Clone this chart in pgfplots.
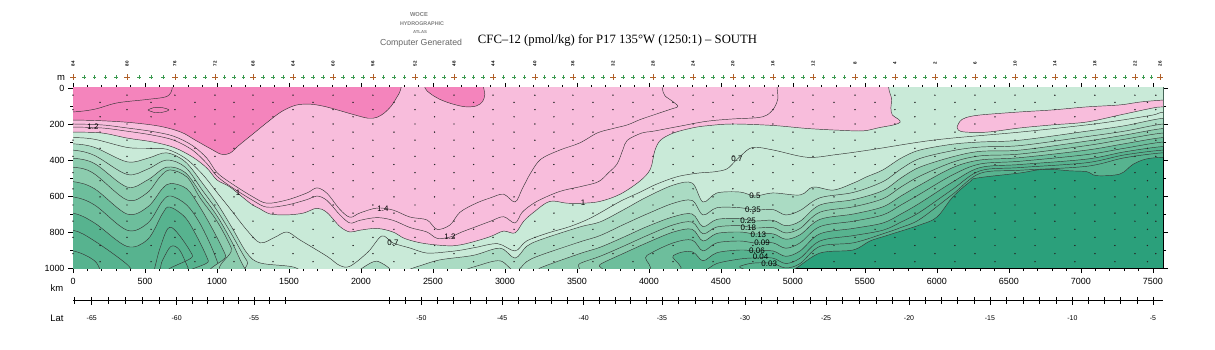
\documentclass[border=0pt]{standalone}
\usepackage{fontspec}
\setmainfont{Liberation Sans}
\newfontfamily\titlefont{Liberation Serif}
\usepackage{graphicx}
\usepackage{pgfplots}
\usepackage{pgfplotstable}
\pgfplotsset{compat=1.18}
\definecolor{dg}{HTML}{2BA07B}
\definecolor{g1}{HTML}{57B38F}
\definecolor{g2}{HTML}{6DBE9C}
\definecolor{g3}{HTML}{8CCCAE}
\definecolor{g4}{HTML}{AADBC3}
\definecolor{g5}{HTML}{C9EAD8}
\definecolor{p1}{HTML}{F8BDDC}
\definecolor{p2}{HTML}{F484BC}
\definecolor{cl}{HTML}{353535}
\definecolor{stg}{HTML}{3C9A50}
\definecolor{stb}{HTML}{B0602A}
\pgfplotsset{cont/.style={smooth, tension=0.55, draw=cl, line width=0.45bp, mark=none}}
% sample positions (station distance, bottle depths)
\pgfplotstableread{
x d1 d2 d3 d4 d5 d6 d7 d8 d9 d10 d11
0 40 120 200 290 380 470 560 650 740 830 920
375 40 120 200 290 380 470 560 650 740 830 920
708 40 120 200 290 380 470 560 650 740 830 920
986 40 120 200 290 380 470 560 650 740 830 920
1250 40 120 200 290 380 470 560 650 740 830 920
1528 40 120 200 290 380 470 560 650 740 830 920
1806 40 120 200 290 380 470 560 650 740 830 920
2083 40 120 200 290 380 470 560 650 740 830 920
2375 40 120 200 290 380 470 560 650 740 830 920
2646 40 120 200 290 380 470 560 650 740 830 920
2917 40 120 200 290 380 470 560 650 740 830 920
3208 40 120 200 290 380 470 560 650 740 830 920
3472 40 120 200 290 380 470 560 650 740 830 920
3750 40 120 200 290 380 470 560 650 740 830 920
4028 40 120 200 290 380 470 560 650 740 830 920
4306 40 120 200 290 380 470 560 650 740 830 920
4583 40 120 200 290 380 470 560 650 740 830 920
4861 40 120 200 290 380 470 560 650 740 830 920
5139 40 120 200 290 380 470 560 650 740 830 920
5431 40 120 200 290 380 470 560 650 740 830 920
5708 40 120 200 290 380 470 560 650 740 830 920
5986 40 120 200 290 380 470 560 650 740 830 920
6264 40 120 200 290 380 470 560 650 740 830 920
6542 40 120 200 290 380 470 560 650 740 830 920
6819 40 120 200 290 380 470 560 650 740 830 920
7097 40 120 200 290 380 470 560 650 740 830 920
7375 40 120 200 290 380 470 560 650 740 830 920
7520 40 120 200 290 380 470 560 650 740 830 920
}\bigst
\pgfplotstableread{
x d1 d2 d3 d4 d5 d6 d7 d8 d9 d10 d11
188 80 160 245 335 425 515 605 695 785 875 965
542 80 160 245 335 425 515 605 695 785 875 965
847 80 160 245 335 425 515 605 695 785 875 965
1118 80 160 245 335 425 515 605 695 785 875 965
1389 80 160 245 335 425 515 605 695 785 875 965
1667 80 160 245 335 425 515 605 695 785 875 965
1945 80 160 245 335 425 515 605 695 785 875 965
2229 80 160 245 335 425 515 605 695 785 875 965
2511 80 160 245 335 425 515 605 695 785 875 965
2782 80 160 245 335 425 515 605 695 785 875 965
3063 80 160 245 335 425 515 605 695 785 875 965
3340 80 160 245 335 425 515 605 695 785 875 965
3611 80 160 245 335 425 515 605 695 785 875 965
3889 80 160 245 335 425 515 605 695 785 875 965
4167 80 160 245 335 425 515 605 695 785 875 965
4445 80 160 245 335 425 515 605 695 785 875 965
4722 80 160 245 335 425 515 605 695 785 875 965
5000 80 160 245 335 425 515 605 695 785 875 965
5285 80 160 245 335 425 515 605 695 785 875 965
5570 80 160 245 335 425 515 605 695 785 875 965
5847 80 160 245 335 425 515 605 695 785 875 965
6125 80 160 245 335 425 515 605 695 785 875 965
6403 80 160 245 335 425 515 605 695 785 875 965
6681 80 160 245 335 425 515 605 695 785 875 965
6958 80 160 245 335 425 515 605 695 785 875 965
7236 80 160 245 335 425 515 605 695 785 875 965
7462 80 160 245 335 425 515 605 695 785 875 965
}\midst
\begin{document}
\begin{tikzpicture}
\path[use as bounding box] (0,0) rectangle (1215bp,350bp);
\begin{axis}[
  at={(73bp,82bp)}, anchor=south west,
  scale only axis, width=1090bp, height=180bp,
  xmin=0, xmax=7570, ymin=0, ymax=1000, y dir=reverse,
  axis background/.style={fill=dg},
  xtick={0,500,...,7500}, minor x tick num=4,
  ytick={0,200,...,1000}, minor y tick num=1,
  xtick pos=both, xticklabel pos=lower,
  ytick pos=both, yticklabel pos=left,
  tick align=outside,
  major tick length=5bp, minor tick length=3bp,
  tick style={black, line width=0.6bp},
  axis line style={line width=1bp},
  ticklabel style={font=\fontsize{9}{9}\selectfont},
  xticklabel style={yshift=-2bp},
  /pgf/number format/assume math mode=true,
  /pgf/number format/1000 sep={},
]
% deepest band boundary
\addplot[cont, fill=g1] coordinates {(-400,-300) (-400,1100) (4600,1100) (4700,1060) (4860,1030) (5000,1010) (5187,917) (5417,900) (5535,850) (5650,820) (5880,761) (6000,717) (6110,605) (6230,520) (6280,500) (6576,472) (6700,455) (6800,452) (6920,460) (7040,465) (7110,487) (7270,478) (7360,425) (7450,395) (7570,385) (7770,385) (7970,385) (7970,-300)} -- cycle;
% 0.03
\addplot[cont] coordinates {(-400,905) (-200,905) (0,905) (150,960) (250,1060) (560,1060) (620,960) (680,880) (740,900) (800,1000) (840,1060) (4400,1060) (4632,990) (4736,972) (4860,975) (4950,1000) (5050,975) (5187,880) (5420,860) (5625,810) (5750,775) (5880,730) (6110,590) (6300,474) (6576,457) (7040,435) (7300,388) (7570,360) (7770,360) (7970,360)};
% 0.04
\addplot[cont] coordinates {(-400,790) (-200,790) (0,790) (150,850) (375,980) (450,1060) (540,1060) (600,900) (660,780) (720,800) (830,930) (880,1060) (4200,1060) (4375,1020) (4472,975) (4632,950) (4736,944) (4860,945) (4950,975) (5050,945) (5187,850) (5420,820) (5625,790) (5750,745) (5880,690) (6110,562) (6300,460) (6576,442) (7040,415) (7300,372) (7570,345) (7770,345) (7970,345)};
% 0.06
\addplot[cont, fill=g2] coordinates {(-400,-300) (-400,695) (-200,695) (0,695) (150,750) (375,880) (520,840) (620,700) (670,661) (780,720) (870,840) (940,960) (980,1060) (3950,1060) (4170,930) (4300,910) (4375,960) (4472,915) (4632,900) (4736,905) (4860,905) (4950,935) (5050,905) (5187,810) (5420,780) (5625,750) (5750,700) (5880,640) (6110,522) (6300,442) (6576,425) (7040,395) (7300,355) (7570,325) (7770,325) (7970,325) (7970,-300)} -- cycle;
% 0.09
\addplot[cont] coordinates {(-400,605) (-200,605) (0,605) (150,650) (375,790) (520,750) (620,630) (680,600) (790,650) (880,750) (960,880) (1020,1000) (1060,1060) (3750,1060) (3986,930) (4170,860) (4300,845) (4375,905) (4472,860) (4632,850) (4736,861) (4860,860) (4950,890) (5050,860) (5187,770) (5420,740) (5625,705) (5750,650) (5880,590) (6110,482) (6300,422) (6576,407) (7040,370) (7300,335) (7570,300) (7770,300) (7970,300)};
% 0.13
\addplot[cont, fill=g3] coordinates {(-400,-300) (-400,520) (-200,520) (0,520) (150,560) (375,700) (520,660) (620,560) (680,530) (790,560) (880,660) (980,800) (1060,930) (1120,1060) (3500,1060) (3660,980) (3820,920) (3986,860) (4170,800) (4300,785) (4375,850) (4472,808) (4632,800) (4736,811) (4860,810) (4950,840) (5050,815) (5187,730) (5420,700) (5625,660) (5750,600) (5880,540) (6110,442) (6300,400) (6576,387) (7040,345) (7300,310) (7570,275) (7770,275) (7970,275) (7970,-300)} -- cycle;
% 0.18
\addplot[cont] coordinates {(-400,440) (-200,440) (0,440) (139,472) (375,622) (514,583) (604,494) (674,455) (792,495) (882,610) (1000,740) (1100,890) (1180,1060) (3300,1060) (3520,975) (3660,935) (3820,880) (3986,820) (4170,760) (4300,745) (4375,810) (4472,772) (4632,765) (4736,778) (4860,775) (4950,805) (5050,780) (5187,690) (5420,660) (5625,615) (5750,550) (5880,490) (6110,412) (6300,377) (6576,367) (7040,320) (7300,285) (7570,250) (7770,250) (7970,250)};
% 0.25
\addplot[cont, fill=g4] coordinates {(-400,-300) (-400,390) (-200,390) (0,390) (150,420) (375,550) (520,510) (650,440) (780,470) (900,600) (1000,710) (1100,850) (1200,1010) (1300,1060) (3100,1060) (3243,1000) (3520,920) (3660,885) (3820,830) (3986,770) (4170,715) (4300,700) (4375,770) (4472,730) (4632,725) (4736,739) (4860,735) (4950,765) (5050,740) (5187,650) (5420,620) (5625,570) (5750,500) (5880,440) (6110,382) (6300,352) (6576,345) (7040,295) (7300,262) (7570,225) (7770,225) (7970,225) (7970,-300)} -- cycle;
% 0.35
\addplot[cont] coordinates {(-400,345) (-200,345) (0,345) (150,375) (375,480) (520,450) (650,400) (780,440) (900,570) (1000,680) (1100,810) (1208,960) (1300,1040) (2500,1060) (2650,1030) (2800,990) (2965,960) (3070,1020) (3150,965) (3243,930) (3520,855) (3660,820) (3820,760) (3986,700) (4170,640) (4300,625) (4375,705) (4472,665) (4632,665) (4736,678) (4860,675) (4950,705) (5050,680) (5187,610) (5420,580) (5625,520) (5750,450) (5880,392) (6110,348) (6300,328) (6576,320) (7040,270) (7300,240) (7570,200) (7770,200) (7970,200)};
% 0.5
\addplot[cont, fill=g5] coordinates {(-400,-300) (-400,310) (-200,310) (0,310) (150,330) (375,410) (520,390) (650,360) (780,410) (900,530) (1000,640) (1100,770) (1208,917) (1300,972) (1528,994) (1650,1040) (1900,1050) (2000,1005) (2060,975) (2110,962) (2170,985) (2250,1025) (2400,990) (2547,955) (2778,930) (2965,890) (3070,945) (3150,880) (3243,844) (3520,772) (3660,744) (3820,678) (3986,605) (4170,539) (4300,528) (4375,633) (4472,583) (4632,578) (4736,600) (4860,583) (5050,594) (5140,550) (5280,567) (5420,528) (5510,494) (5625,455) (5750,390) (5880,345) (6110,312) (6300,300) (6576,290) (7040,240) (7300,210) (7570,168) (7770,168) (7970,168) (7970,-300)} -- cycle;
% 0.7
\addplot[cont] coordinates {(-400,275) (-200,275) (0,275) (150,285) (375,330) (520,335) (650,340) (780,390) (900,480) (1000,580) (1100,680) (1208,790) (1300,860) (1400,830) (1486,800) (1576,844) (1764,935) (1850,985) (1924,990) (2050,910) (2145,822) (2222,861) (2340,889) (2458,917) (2600,910) (2700,900) (2800,885) (2950,865) (3070,905) (3150,850) (3300,805) (3450,770) (3600,720) (3800,630) (3940,578) (4050,535) (4200,492) (4350,472) (4450,466) (4540,450) (4600,405) (4640,375) (4720,330) (4860,344) (5100,385) (5300,370) (5535,344) (5880,300) (6110,278) (6576,245) (7040,205) (7270,180) (7500,150) (7570,135) (7770,130) (7970,130)};
% 1.0
\addplot[cont, fill=p1] coordinates {(-400,-300) (-400,245) (-200,245) (0,245) (200,250) (375,278) (555,300) (700,330) (830,383) (930,445) (1000,511) (1090,550) (1230,640) (1300,672) (1370,700) (1486,705) (1600,695) (1694,668) (1764,692) (1854,770) (1924,800) (1993,790) (2111,780) (2222,800) (2300,835) (2400,858) (2500,870) (2618,877) (2700,870) (2800,850) (2900,825) (2990,795) (3070,805) (3130,740) (3200,690) (3310,630) (3430,640) (3542,640) (3660,630) (3800,590) (3940,515) (4010,450) (4040,350) (4080,290) (4170,250) (4300,222) (4400,210) (4580,200) (4860,208) (5100,225) (5330,235) (5490,238) (5600,220) (5700,205) (5745,190) (5730,172) (5690,150) (5680,110) (5685,60) (5665,0) (5665,-100) (5665,-300)} -- cycle;
% 1.2
\addplot[cont] coordinates {(-400,217) (-200,217) (0,217) (200,222) (375,240) (555,262) (700,290) (830,345) (930,420) (1000,490) (1100,550) (1250,625) (1347,662) (1486,650) (1625,620) (1694,600) (1764,625) (1854,705) (1924,750) (1993,735) (2111,720) (2222,735) (2340,775) (2458,800) (2528,835) (2618,828) (2700,800) (2800,770) (2900,740) (2990,715) (3070,750) (3120,690) (3200,640) (3300,600) (3400,570) (3540,545) (3650,520) (3720,470) (3780,420) (3820,340) (3850,290) (3950,250) (4030,240) (4215,212) (4400,185) (4580,172) (4750,165) (4820,150) (4870,110) (4895,60) (4890,0) (4890,-60)};
% 1.4
\addplot[cont] coordinates {(-400,200) (-200,200) (0,200) (200,205) (375,222) (555,242) (700,268) (830,320) (930,390) (1000,470) (1100,530) (1250,605) (1347,640) (1486,622) (1625,583) (1694,555) (1764,585) (1854,675) (1924,718) (1993,694) (2111,667) (2222,678) (2340,717) (2458,733) (2528,785) (2618,761) (2688,690) (2800,640) (2900,610) (2990,590) (3070,633) (3120,560) (3180,470) (3250,395) (3380,345) (3520,305) (3640,250) (3750,225) (3850,205) (3940,175) (4050,145) (4150,118) (4200,102) (4160,72) (4110,42) (4092,0) (4090,-60)};
% 1.6 dark pink
\addplot[cont, fill=p2] coordinates {(-400,-300) (-400,178) (-200,178) (0,178) (200,182) (400,192) (600,212) (750,245) (850,290) (950,335) (1030,368) (1090,362) (1150,320) (1250,255) (1350,190) (1450,130) (1550,95) (1650,90) (1750,103) (1850,125) (1950,148) (2050,168) (2110,163) (2160,140) (2210,100) (2250,50) (2275,10) (2285,-60) (2285,-300)} -- cycle;
% 1.8
\addplot[cont] coordinates {(-400,133) (-200,133) (0,133) (150,118) (305,83) (500,65) (640,50) (680,25) (690,-10) (690,-60)};
\addplot[cont] coordinates {(520,122) (560,109) (620,109) (665,122) (620,135) (560,135) (520,122)};
% dark pink surface blob
\addplot[cont, fill=p2] coordinates {(2440,-60) (2445,0) (2480,30) (2540,60) (2620,85) (2720,104) (2800,100) (2845,75) (2860,35) (2852,0) (2850,-60)} -- cycle;
% pink tongue
\addplot[cont, fill=p1] coordinates {(6140,216) (6160,185) (6200,165) (6300,150) (6576,133) (6800,122) (7040,105) (7270,94) (7410,78) (7570,67) (7750,60) (7750,100) (7570,105) (7500,111) (7270,150) (7040,189) (6800,205) (6576,222) (6350,245) (6200,245) (6150,235) (6140,216)} -- cycle;
% sample dots
\pgfplotsinvokeforeach{1,...,11}{
  \addplot[only marks, mark=*, mark size=0.45bp, black!85] table[x=x, y=d#1] {\bigst};
  \addplot[only marks, mark=*, mark size=0.45bp, black!85] table[x=x, y=d#1] {\midst};
}
% contour labels
\begin{scope}[every node/.style={font=\fontsize{8}{8}\selectfont, inner sep=0.2pt, text=black}]
\node at (axis cs:139,217) {1.2};
\node at (axis cs:1146,583) {1};
\node at (axis cs:2153,672) {1.4};
\node at (axis cs:2618,828) {1.2};
\node at (axis cs:2222,861) {0.7};
\node at (axis cs:3542,639) {1};
\node at (axis cs:4611,394) {0.7};
\node at (axis cs:4736,600) {0.5};
\node at (axis cs:4722,675) {0.35};
\node at (axis cs:4688,735) {0.25};
\node at (axis cs:4690,776) {0.18};
\node at (axis cs:4760,815) {0.13};
\node at (axis cs:4785,860) {0.09};
\node at (axis cs:4750,902) {0.06};
\node at (axis cs:4775,940) {0.04};
\node at (axis cs:4835,978) {0.03};
\end{scope}
\end{axis}
% decorations: stations and latitude axis
\begin{axis}[
  at={(73bp,82bp)}, anchor=south west,
  scale only axis, width=1090bp, height=180bp,
  xmin=0, xmax=7570, ymin=0, ymax=1000, y dir=reverse,
  hide axis, clip=false,
]
\addplot[only marks, mark=+, mark size=1.8bp, stg, line width=0.5bp] coordinates {(75,-61) (150,-61) (225,-61) (300,-61) (458,-61) (542,-61) (625,-61) (778,-61) (847,-61) (917,-61) (1052,-61) (1118,-61) (1184,-61) (1320,-61) (1389,-61) (1459,-61) (1598,-61) (1667,-61) (1737,-61) (1875,-61) (1945,-61) (2014,-61) (2156,-61) (2229,-61) (2302,-61) (2443,-61) (2511,-61) (2578,-61) (2714,-61) (2782,-61) (2849,-61) (2990,-61) (3063,-61) (3135,-61) (3274,-61) (3340,-61) (3406,-61) (3542,-61) (3611,-61) (3681,-61) (3820,-61) (3889,-61) (3959,-61) (4098,-61) (4167,-61) (4237,-61) (4375,-61) (4445,-61) (4514,-61) (4653,-61) (4722,-61) (4792,-61) (4931,-61) (5000,-61) (5070,-61) (5212,-61) (5285,-61) (5358,-61) (5500,-61) (5570,-61) (5639,-61) (5778,-61) (5847,-61) (5917,-61) (6056,-61) (6125,-61) (6195,-61) (6334,-61) (6403,-61) (6473,-61) (6611,-61) (6681,-61) (6750,-61) (6889,-61) (6958,-61) (7028,-61) (7167,-61) (7236,-61) (7306,-61) (7433,-61) (7491,-61)};
\addplot[only marks, mark=+, mark size=2.8bp, stb, line width=0.6bp]
  coordinates {(0,-61) (375,-61) (708,-61) (986,-61) (1250,-61) (1528,-61) (1806,-61) (2083,-61) (2375,-61) (2646,-61) (2917,-61) (3208,-61) (3472,-61) (3750,-61) (4028,-61) (4306,-61) (4583,-61) (4861,-61) (5139,-61) (5431,-61) (5708,-61) (5986,-61) (6264,-61) (6542,-61) (6819,-61) (7097,-61) (7375,-61) (7549,-61)};
\addplot[only marks, mark=none, nodes near coords, point meta=explicit symbolic,
  nodes near coords style={rotate=90, anchor=center, font=\fontsize{4.5}{4.5}\selectfont\bfseries, text=black}]
  coordinates {(0,-135)[84] (375,-135)[80] (708,-135)[76] (986,-135)[72] (1250,-135)[68] (1528,-135)[64] (1806,-135)[60] (2083,-135)[56] (2375,-135)[52] (2646,-135)[48] (2917,-135)[44] (3208,-135)[40] (3472,-135)[36] (3750,-135)[32] (4028,-135)[28] (4306,-135)[24] (4583,-135)[20] (4861,-135)[16] (5139,-135)[12] (5431,-135)[8] (5708,-135)[4] (5986,-135)[2] (6264,-135)[6] (6542,-135)[10] (6819,-135)[14] (7097,-135)[18] (7375,-135)[22] (7549,-135)[26]};
% latitude axis
\addplot[black, line width=0.6bp] coordinates {(0,1182) (7570,1182)};
\addplot[only marks, mark=|, mark size=3.3bp, black, line width=0.5bp] coordinates {(12,1182) (248,1182) (366,1182) (484,1182) (602,1182) (827,1182) (935,1182) (1042,1182) (1150,1182) (1364,1182) (1471,1182) (2196,1182) (2308,1182) (2532,1182) (2644,1182) (2756,1182) (2868,1182) (3093,1182) (3207,1182) (3320,1182) (3434,1182) (3656,1182) (3764,1182) (3873,1182) (3981,1182) (4205,1182) (4321,1182) (4436,1182) (4552,1182) (4780,1182) (4892,1182) (5005,1182) (5117,1182) (5345,1182) (5460,1182) (5576,1182) (5691,1182) (5918,1182) (6031,1182) (6143,1182) (6256,1182) (6483,1182) (6597,1182) (6712,1182) (6826,1182) (7053,1182) (7165,1182) (7276,1182) (7388,1182)};
\addplot[only marks, mark=|, mark size=4bp, black, line width=0.6bp] coordinates {(130,1182) (720,1182) (1257,1182) (2420,1182) (2980,1182) (3547,1182) (4090,1182) (4667,1182) (5230,1182) (5806,1182) (6368,1182) (6941,1182) (7500,1182)};
\addplot[only marks, mark=none, nodes near coords, point meta=explicit symbolic,
  nodes near coords style={anchor=center, font=\fontsize{7}{7}\selectfont, text=black}]
  coordinates {(130,1281)[-65] (720,1281)[-60] (1257,1281)[-55] (2420,1281)[-50] (2980,1281)[-45] (3547,1281)[-40] (4090,1281)[-35] (4667,1281)[-30] (5230,1281)[-25] (5806,1281)[-20] (6368,1281)[-15] (6941,1281)[-10] (7500,1281)[-5]};
\end{axis}
\node[font=\fontsize{9.5}{9.5}\selectfont] at (57bp,62bp) {km};
\node[font=\fontsize{9.5}{9.5}\selectfont] at (57bp,32bp) {Lat};
\node[font=\fontsize{9.5}{9.5}\selectfont] at (61bp,272bp) {m};
\node[inner sep=0] at (617.5bp,310bp) {\resizebox{279bp}{!}{\titlefont CFC–12 (pmol/kg) for P17 135°W (1250:1) – SOUTH}};
\node[inner sep=0, text=black!60] at (421bp,307bp) {\resizebox{82bp}{!}{Computer Generated}};
\node[inner sep=0, text=black!50] at (419bp,335bp) {\resizebox{18bp}{!}{\bfseries WOCE}};
\node[inner sep=0, text=black!50] at (422bp,326bp) {\resizebox{44bp}{!}{\bfseries HYDROGRAPHIC}};
\node[inner sep=0, text=black!50] at (420bp,318bp) {\resizebox{14bp}{!}{\bfseries ATLAS}};
\end{tikzpicture}
\end{document}
